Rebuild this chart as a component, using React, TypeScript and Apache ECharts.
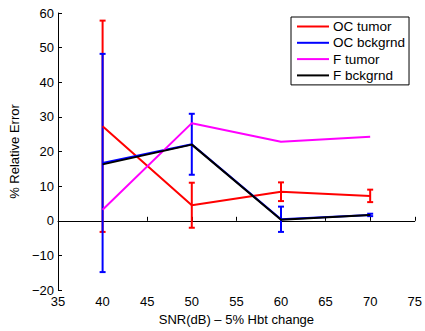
import React, { useEffect, useRef } from "react";
import * as echarts from "echarts";

const snr = [40, 50, 60, 70];

const ocTumor = [27.3, 4.5, 8.4, 7.2];
const ocTumorErr = [30.5, 6.5, 2.7, 1.8];
const ocBckgrnd = [16.7, 22.1, 0.45, 1.7];
const ocBckgrndErr = [31.5, 8.8, 3.65, 0.35];
const fTumor = [3.2, 28.2, 22.8, 24.3];
const fBckgrnd = [16.3, 22.0, 0.3, 1.7];

const seriesNames = ["OC tumor", "OC bckgrnd", "F tumor", "F bckgrnd"];
const colors = ["#ff0000", "#0000ff", "#ff00ff", "#000000"];

const FONT = "'Liberation Sans', Arial, Helvetica, sans-serif";

function errorBarSeries(name: string, color: string, mean: number[], err: number[]) {
  return {
    name,
    type: "custom",
    silent: true,
    data: snr.map((x, i) => [x, mean[i] - err[i], mean[i] + err[i]]),
    renderItem: (_params: any, api: any) => {
      const x = api.value(0);
      const lo = api.coord([x, api.value(1)]);
      const hi = api.coord([x, api.value(2)]);
      const cap = 3;
      const style = { stroke: color, lineWidth: 2 };
      return {
        type: "group",
        children: [
          { type: "line", shape: { x1: lo[0], y1: lo[1], x2: hi[0], y2: hi[1] }, style },
          { type: "line", shape: { x1: lo[0] - cap, y1: lo[1], x2: lo[0] + cap, y2: lo[1] }, style },
          { type: "line", shape: { x1: hi[0] - cap, y1: hi[1], x2: hi[0] + cap, y2: hi[1] }, style },
        ],
      };
    },
    z: 2,
  };
}

function lineSeries(name: string, color: string, values: number[]) {
  return {
    name,
    type: "line",
    data: snr.map((x, i) => [x, values[i]]),
    showSymbol: false,
    symbol: "none",
    lineStyle: { color, width: 2 },
    itemStyle: { color },
    z: 3,
  };
}

export default function App() {
  const ref = useRef<HTMLDivElement>(null);

  useEffect(() => {
    if (!ref.current) return;
    const chart = echarts.init(ref.current, null, { renderer: "svg" });
    const minus = (v: number) => String(v).replace("-", "\u2212");
    chart.setOption({
      animation: false,
      backgroundColor: "#ffffff",
      textStyle: { fontFamily: FONT },
      grid: { left: 58, top: 13, right: 10, bottom: 37 },
      legend: {
        data: seriesNames.map((n, i) => ({ name: n, itemStyle: { color: colors[i] } })),
        orient: "vertical",
        left: 291,
        top: 17,
        width: 117,
        padding: [2, 4, 2, 6],
        itemGap: 1.3,
        itemWidth: 32,
        itemHeight: 2,
        icon: "rect",
        borderColor: "#000000",
        borderWidth: 1,
        backgroundColor: "#ffffff",
        textStyle: { fontFamily: FONT, fontSize: 13.5, color: "#000000", lineHeight: 15, padding: [0, 0, 0, -1] },
      },
      xAxis: {
        type: "value",
        min: 35,
        max: 75,
        interval: 5,
        name: "SNR(dB) \u2013 5% Hbt change",
        nameLocation: "middle",
        nameGap: 19,
        nameTextStyle: { fontFamily: FONT, fontSize: 13, color: "#000000" },
        axisLine: { show: true, lineStyle: { color: "#000000", width: 1 } },
        axisTick: { show: true, inside: true, length: 4, lineStyle: { color: "#000000" } },
        axisLabel: { fontFamily: FONT, fontSize: 13, color: "#000000", margin: 5, formatter: minus },
        splitLine: { show: false },
      },
      yAxis: {
        type: "value",
        min: -20,
        max: 60,
        interval: 10,
        name: "% Relative Error",
        nameLocation: "middle",
        nameGap: 29,
        nameTextStyle: { fontFamily: FONT, fontSize: 13, color: "#000000" },
        axisLine: { show: true, lineStyle: { color: "#000000", width: 1 } },
        axisTick: { show: true, inside: true, length: 4, lineStyle: { color: "#000000" } },
        axisLabel: { fontFamily: FONT, fontSize: 13, color: "#000000", margin: 4, formatter: minus },
        splitLine: { show: false },
      },
      series: [
        errorBarSeries(seriesNames[0], colors[0], ocTumor, ocTumorErr),
        lineSeries(seriesNames[0], colors[0], ocTumor),
        errorBarSeries(seriesNames[1], colors[1], ocBckgrnd, ocBckgrndErr),
        lineSeries(seriesNames[1], colors[1], ocBckgrnd),
        lineSeries(seriesNames[2], colors[2], fTumor),
        lineSeries(seriesNames[3], colors[3], fBckgrnd),
      ],
    });
    return () => chart.dispose();
  }, []);

  return <div ref={ref} style={{ width: 425, height: 331, position: "absolute", left: 0, top: 0 }} />;
}
